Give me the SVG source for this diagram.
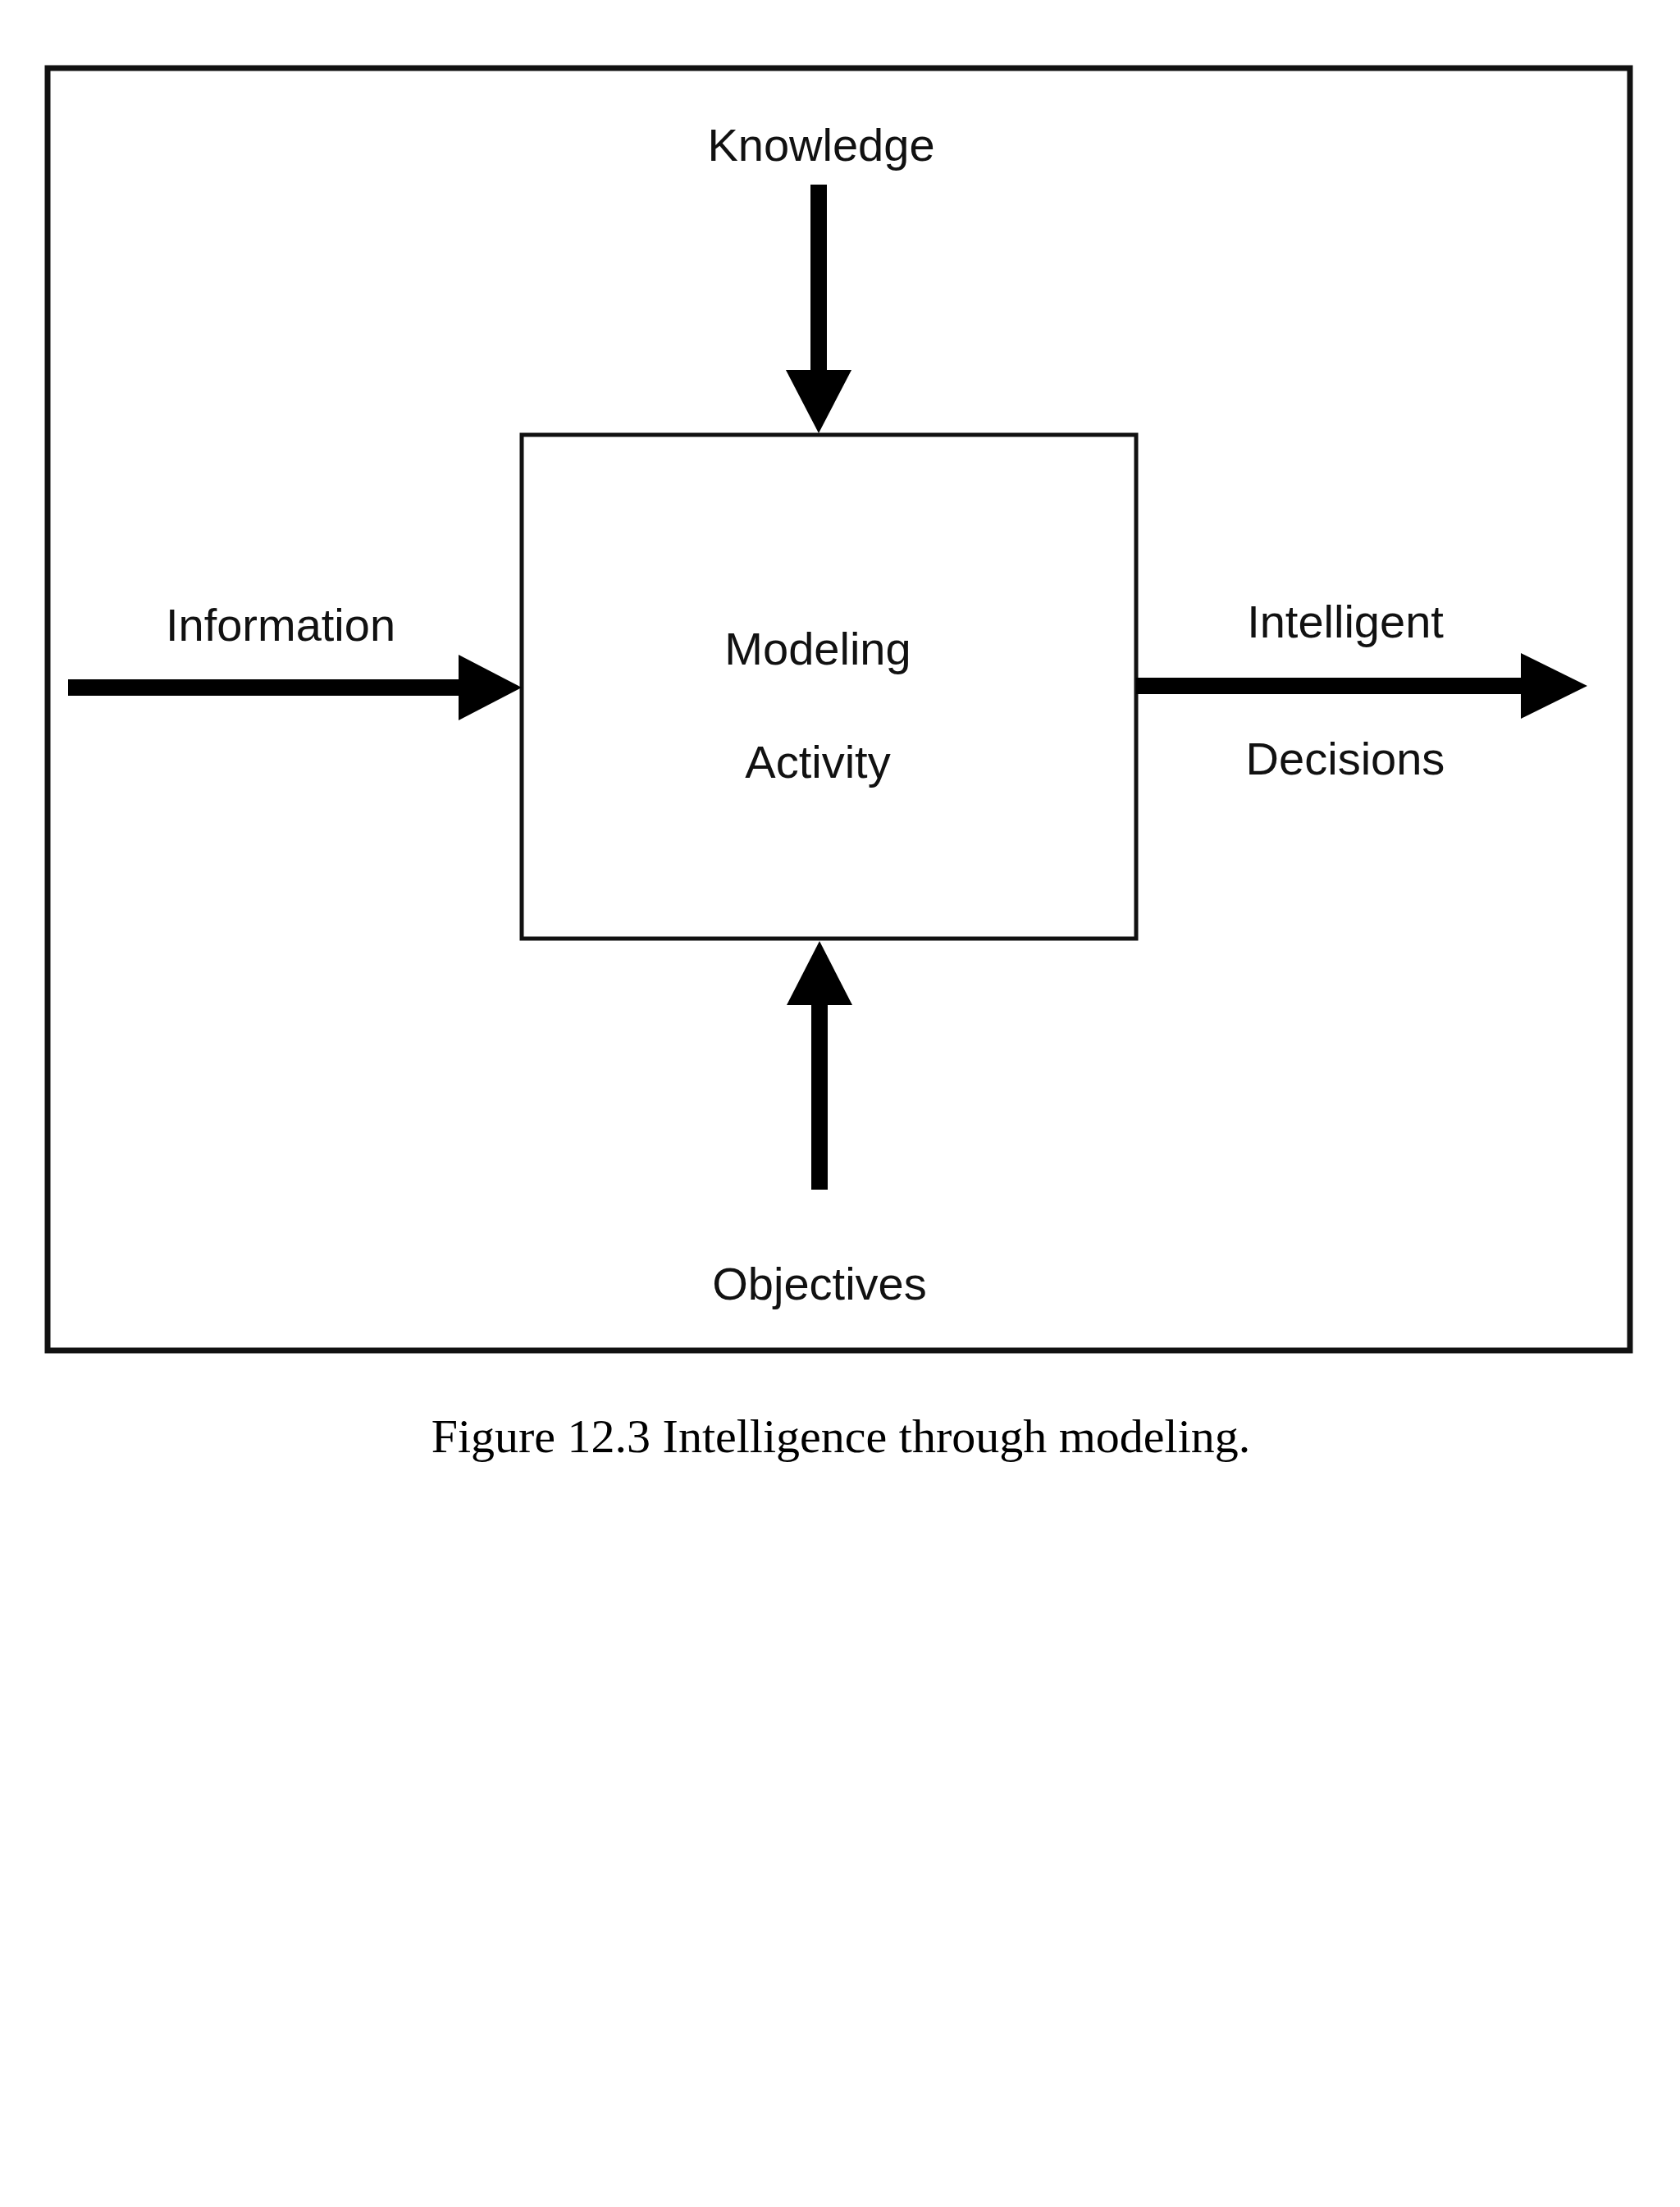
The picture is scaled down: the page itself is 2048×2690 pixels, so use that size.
<svg xmlns="http://www.w3.org/2000/svg" width="2048" height="2690" viewBox="0 0 2048 2690">
<style>
.l{font-family:"Liberation Sans",Arial,sans-serif;font-size:56px;fill:#111;text-anchor:middle}
.c{font-family:"Liberation Serif","Times New Roman",serif;font-size:58px;fill:#000;text-anchor:middle}
.s{stroke:#000;stroke-width:20;fill:none}
</style>
<rect width="2048" height="2690" fill="#fff"/>
<rect x="58" y="83" width="1929" height="1563" fill="none" stroke="#111" stroke-width="7"/>
<g id="modeling">
<rect x="636" y="530" width="749" height="614" fill="#fff" stroke="#111" stroke-width="5"/>
<text class="l" x="997" y="810">Modeling</text>
<text class="l" x="997" y="948">Activity</text>
</g>
<g id="knowledge"><text class="l" x="1001" y="196">Knowledge</text></g>
<g id="information"><text class="l" x="342" y="781">Information</text></g>
<g id="decisions"><text class="l" x="1640" y="777">Intelligent</text><text class="l" x="1640" y="944">Decisions</text></g>
<g id="objectives"><text class="l" x="999" y="1584">Objectives</text></g>
<g id="connectors">
<path class="s" d="M998 225V455"/><path d="M958 451H1038L998 528Z"/>
<path class="s" d="M83 838H565"/><path d="M559 798V878L636 838Z"/>
<path class="s" d="M1385 836H1860"/><path d="M1854 796V876L1935 836Z"/>
<path class="s" d="M999 1450V1220"/><path d="M959 1225H1039L999 1147Z"/>
</g>
<text class="c" x="1025" y="1770">Figure 12.3 Intelligence through modeling.</text>
</svg>
